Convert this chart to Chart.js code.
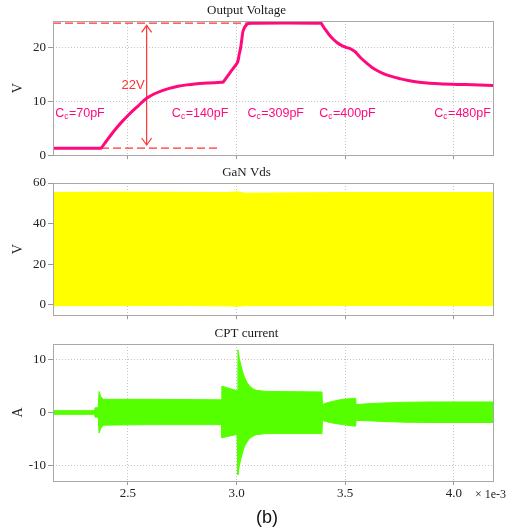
<!DOCTYPE html>
<html lang="en">
<head>
  <meta charset="UTF-8" />
  <title>Output Voltage / GaN Vds / CPT current</title>
  <script src="https://cdn.jsdelivr.net/npm/chart.js"></script>
  <style>
    body {
      margin: 0;
      background: #fff;
      width: 519px;
      height: 532px;
      position: relative;
      overflow: hidden;
    }
    canvas { position: absolute; left: 0; }
    #c1 { top: 0; }
    #c2 { top: 165px; }
    #c3 { top: 325px; }
    .note { position: absolute; color: #222; white-space: nowrap; }
    #scale { left: 475px; top: 487px; font: 12px 'Liberation Serif', serif; }
    #caption { left: 256px; top: 507px; font: 18px 'Liberation Sans', sans-serif; color: #111; }
  </style>
</head>
<body>
  <canvas id="c1" width="519" height="165"></canvas>
  <canvas id="c2" width="519" height="160"></canvas>
  <canvas id="c3" width="519" height="207"></canvas>
  <div class="note" id="scale">× 1e-3</div>
  <div class="note" id="caption">(b)</div>

  <script>
    // time in ms (axis shows x 1e-3 s)
    const xMin = 2.155, xMax = 4.18;
    const xTicks = [2.5, 3.0, 3.5, 4.0];
    const xTickLabels = ['2.5', '3.0', '3.5', '4.0'];

    // Output Voltage
    const voutTime = [2.155, 2.37, 2.376, 2.40, 2.425, 2.45, 2.475, 2.50, 2.525, 2.55, 2.586, 2.62, 2.655, 2.69, 2.731, 2.77, 2.808, 2.87, 2.93, 2.937,
      2.945, 2.97, 3.0, 3.006, 3.012, 3.018, 3.024, 3.029, 3.038, 3.052, 3.07, 3.38, 3.389, 3.395, 3.405, 3.427, 3.445, 3.465, 3.485, 3.503, 3.525, 3.541,
      3.548, 3.556, 3.572, 3.60, 3.625, 3.655, 3.687, 3.72, 3.748, 3.79, 3.84, 3.932, 4.054, 4.18];
    const voutVal = [1.3, 1.3, 1.3, 2.6, 3.95, 5.2, 6.35, 7.4, 8.4, 9.3, 10.6, 11.4, 12.0, 12.45, 12.85, 13.1, 13.28, 13.45, 13.58, 13.6,
      14.0, 15.4, 17.0, 17.5, 18.8, 19.9, 21.6, 23.0, 23.9, 24.5, 24.6, 24.6, 24.6, 24.2, 23.6, 22.4, 21.6, 20.9, 20.4, 20.1, 19.8, 19.4,
      19.2, 18.8, 18.1, 17.1, 16.3, 15.6, 15.0, 14.6, 14.3, 13.9, 13.6, 13.3, 13.15, 13.0];
    const voutTicks = [0, 10, 20];

    const refTopTime = [2.155, 3.06], refTopVal = [24.6, 24.6];
    const refBotTime = [2.155, 2.914], refBotVal = [1.3, 1.3];
    const arrowTime = 2.586, arrowVal = [1.9, 24.2];
    const swingText = '22V', swingTextVal = 13.0;

    const capLabels = ['70pF', '140pF', '309pF', '400pF', '480pF'];
    const capLabelTime = [2.165, 2.702, 3.05, 3.38, 3.91];
    const capLabelVal = 7.7;

    // GaN Vds (switching envelope)
    const vdsTime = [2.155, 2.4, 2.7, 2.96, 3.0, 3.04, 3.3, 3.6, 3.9, 4.18];
    const vdsUpper = [55.3, 55.5, 55.4, 55.3, 55.7, 55.0, 55.2, 55.3, 55.3, 55.3];
    const vdsLower = [-0.5, -0.5, -0.4, -0.6, -0.8, -0.5, -0.5, -0.4, -0.5, -0.5];
    const vdsTicks = [0, 20, 40, 60];

    // CPT current (envelope)
    const icptTime = [2.155, 2.345, 2.349, 2.363, 2.367, 2.375, 2.387, 2.6, 2.93, 2.932, 2.996, 3.002, 3.006, 3.013, 3.021, 3.029,
      3.037, 3.048, 3.06, 3.075, 3.09, 3.136, 3.393, 3.395, 3.42, 3.441, 3.487, 3.548, 3.55, 3.6, 3.671, 3.78, 3.9, 4.18];
    const icptUpper = [0.35, 0.35, 0.9, 0.9, 4.0, 3.0, 2.5, 2.5, 2.4, 5.0, 4.2, 4.2, 11.9, 10.2, 8.8, 7.6,
      6.6, 5.7, 5.0, 4.5, 4.2, 4.0, 3.9, 1.5, 1.9, 2.1, 2.5, 2.7, 1.5, 1.65, 1.8, 1.95, 2.0, 2.0];
    const icptLower = [-0.35, -0.35, -0.9, -0.9, -3.9, -3.0, -2.4, -2.3, -2.3, -4.8, -4.2, -4.2, -11.8, -10.0, -8.6, -7.4,
      -6.4, -5.6, -4.9, -4.5, -4.2, -4.0, -4.0, -1.5, -1.8, -2.0, -2.3, -2.6, -1.5, -1.55, -1.7, -1.85, -1.9, -1.9];
    const icptTicks = [-10, 0, 10];

    const SERIF = "'Liberation Serif', 'Times New Roman', serif";
    const SANS = "'Liberation Sans', Arial, sans-serif";
    const PINK = '#ff0a7c';
    const RED = '#ff3333';

    const pts = (xs, ys) => xs.map((x, i) => ({ x, y: ys[i] }));

    const framePlugin = {
      id: 'frame',
      afterDatasetsDraw(chart) {
        const { ctx, chartArea: a } = chart;
        ctx.save();
        ctx.strokeStyle = '#a8a8a8';
        ctx.lineWidth = 1;
        ctx.strokeRect(Math.round(a.left) + 0.5, Math.round(a.top) + 0.5,
          Math.round(a.right - a.left), Math.round(a.bottom - a.top));
        ctx.restore();
      }
    };

    function makeOptions(o) {
      return {
        responsive: false,
        animation: false,
        devicePixelRatio: 1,
        layout: { padding: { left: 0, right: 26, top: 0, bottom: 0 } },
        plugins: {
          legend: { display: false },
          tooltip: { enabled: false },
          title: {
            display: true,
            text: o.title,
            color: '#1a1a1a',
            font: { family: SERIF, size: 13, weight: 'normal', lineHeight: 1 },
            padding: o.titlePad
          }
        },
        scales: {
          x: {
            type: 'linear',
            min: xMin,
            max: xMax,
            afterBuildTicks: s => { s.ticks = xTicks.map(v => ({ value: v })); },
            afterFit: s => { s.height = o.xHeight; },
            ticks: {
              display: o.xLabels,
              color: '#222',
              font: { family: SERIF, size: 13 },
              padding: 1,
              maxRotation: 0,
              callback: (v, i) => xTickLabels[i]
            },
            grid: { color: '#c4c4c4', tickColor: '#999', tickLength: 4, tickBorderDash: [] },
            border: { display: false, dash: [1, 2] }
          },
          y: {
            type: 'linear',
            min: o.yMin,
            max: o.yMax,
            afterBuildTicks: s => { s.ticks = o.yTicks.map(v => ({ value: v })); },
            afterFit: s => { s.width = 53; },
            ticks: {
              color: '#222',
              font: { family: SERIF, size: 13 },
              padding: 2,
              callback: v => String(v)
            },
            grid: { color: '#c4c4c4', tickColor: '#999', tickLength: 5, tickBorderDash: [] },
            border: { display: false, dash: [1, 2] },
            title: {
              display: true,
              text: o.yTitle,
              color: '#222',
              font: { family: SERIF, size: 14, lineHeight: 1 },
              padding: { top: 11, bottom: 0 }
            }
          }
        }
      };
    }

    // arrow heads, swing text and capacitor labels on the voltage plot
    const voutNotes = {
      id: 'voutNotes',
      afterDatasetsDraw(chart) {
        const { ctx, scales: { x, y } } = chart;
        const ax = x.getPixelForValue(arrowTime);
        const yTop = y.getPixelForValue(arrowVal[1]);
        const yBot = y.getPixelForValue(arrowVal[0]);
        ctx.save();
        ctx.strokeStyle = RED;
        ctx.lineWidth = 1.2;
        ctx.beginPath();
        ctx.moveTo(ax - 5, yTop + 7); ctx.lineTo(ax, yTop); ctx.lineTo(ax + 5, yTop + 7);
        ctx.moveTo(ax - 5, yBot - 7); ctx.lineTo(ax, yBot); ctx.lineTo(ax + 5, yBot - 7);
        ctx.stroke();

        ctx.fillStyle = RED;
        ctx.font = '13px ' + SANS;
        ctx.textAlign = 'right';
        ctx.textBaseline = 'middle';
        ctx.fillText(swingText, ax - 2, y.getPixelForValue(swingTextVal));

        ctx.fillStyle = PINK;
        ctx.textAlign = 'left';
        const ly = y.getPixelForValue(capLabelVal);
        capLabels.forEach((lab, i) => {
          let px = x.getPixelForValue(capLabelTime[i]);
          ctx.font = '12.5px ' + SANS;
          ctx.fillText('C', px, ly);
          px += ctx.measureText('C').width;
          ctx.font = '8.5px ' + SANS;
          ctx.fillText('c', px, ly + 2.5);
          px += ctx.measureText('c').width + 0.5;
          ctx.font = '12.5px ' + SANS;
          ctx.fillText('=' + lab, px, ly);
        });
        ctx.restore();
      }
    };

    new Chart(document.getElementById('c1'), {
      type: 'line',
      data: {
        datasets: [
          { data: pts(voutTime, voutVal), borderColor: PINK, borderWidth: 3, pointRadius: 0, tension: 0.3,
            borderJoinStyle: 'round', borderCapStyle: 'round' },
          { data: pts(refTopTime, refTopVal), borderColor: RED, borderWidth: 1.2, borderDash: [8, 4], pointRadius: 0 },
          { data: pts(refBotTime, refBotVal), borderColor: RED, borderWidth: 1.2, borderDash: [8, 4], pointRadius: 0 },
          { data: pts([arrowTime, arrowTime], arrowVal), borderColor: RED, borderWidth: 1.2, pointRadius: 0 }
        ]
      },
      options: makeOptions({ title: 'Output Voltage', titlePad: { top: 4, bottom: 4 }, yMin: 0, yMax: 25,
        yTicks: voutTicks, yTitle: 'V', xLabels: false, xHeight: 8 }),
      plugins: [framePlugin, voutNotes]
    });

    new Chart(document.getElementById('c2'), {
      type: 'line',
      data: {
        datasets: [
          { data: pts(vdsTime, vdsUpper), borderColor: '#ffff00', backgroundColor: '#ffff00', borderWidth: 1, pointRadius: 0, fill: '+1' },
          { data: pts(vdsTime, vdsLower), borderColor: '#ffff00', borderWidth: 1, pointRadius: 0, fill: false }
        ]
      },
      options: makeOptions({ title: 'GaN Vds', titlePad: { top: 1, bottom: 4 }, yMin: -5.2, yMax: 60,
        yTicks: vdsTicks, yTitle: 'V', xLabels: false, xHeight: 6 }),
      plugins: [framePlugin]
    });

    new Chart(document.getElementById('c3'), {
      type: 'line',
      data: {
        datasets: [
          { data: pts(icptTime, icptUpper), borderColor: '#55ff00', backgroundColor: '#55ff00', borderWidth: 1, pointRadius: 0, fill: '+1' },
          { data: pts(icptTime, icptLower), borderColor: '#55ff00', borderWidth: 1, pointRadius: 0, fill: false }
        ]
      },
      options: makeOptions({ title: 'CPT current', titlePad: { top: 2, bottom: 4 }, yMin: -13, yMax: 13,
        yTicks: icptTicks, yTitle: 'A', xLabels: true, xHeight: 51 }),
      plugins: [framePlugin]
    });
  </script>
</body>
</html>
